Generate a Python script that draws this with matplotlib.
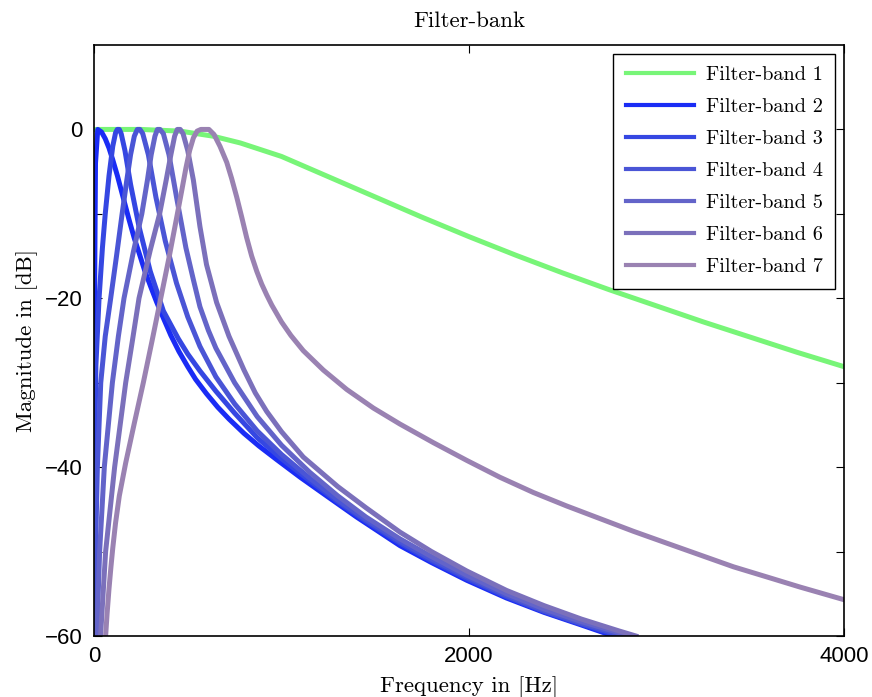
import numpy as np
import matplotlib
matplotlib.use("Agg")
import matplotlib.pyplot as plt

# Magnitude responses of the filter bank, read as (frequency [Hz], magnitude [dB])
band1_f = [0, 250, 460, 635, 780, 1000, 1250, 1500, 1750, 2000, 2250, 2500, 2750, 3000, 3250, 3500, 3750, 4000]
band1_db = [0, 0, -0.2, -0.8, -1.6, -3.2, -5.6, -8.0, -10.4, -12.7, -14.9, -17.0, -19.0, -20.9, -22.8, -24.6, -26.4, -28.1]

band2_f = [0, 3, 8, 20, 40, 60, 80, 100, 125, 150, 187, 215, 240, 270, 302, 335, 373, 410, 453, 500, 542, 600, 660,
           720, 800, 880, 974, 1100, 1240, 1400, 1632, 1800, 1988, 2200, 2400, 2600, 2770]
band2_db = [-60, -20, -4, 0, -0.3, -1.1, -2.2, -3.6, -5.5, -7.6, -10.7, -12.9, -14.6, -16.7, -18.6, -20.5, -22.5, -24.4,
            -26.3, -28.1, -29.6, -31.3, -32.9, -34.3, -36.0, -37.5, -39.1, -41.2, -43.4, -45.9, -49.3, -51.3, -53.4,
            -55.5, -57.2, -58.7, -60]

band3_f = [2, 4, 6, 10, 27, 45, 60, 80, 100, 115, 124, 135, 145, 165, 195, 240, 300, 370, 450, 500, 565, 650, 750, 870,
           1000, 1150, 1300, 1450, 1632, 1800, 1988, 2200, 2400, 2600, 2800]
band3_db = [-60, -45, -35, -28, -20, -14, -10, -5.5, -2, -0.4, 0, 0, -0.5, -2.5, -6.5, -11.5, -16.8, -21.5, -24.8,
            -26.6, -28.6, -31.0, -33.6, -36.5, -39.0, -41.6, -44.1, -46.4, -49.0, -51.1, -53.2, -55.35, -57.1, -58.6, -60]

band4_f = [3, 8, 18, 36, 60, 89, 120, 150, 175, 195, 215, 231, 245, 260, 290, 330, 380, 440, 500, 565, 650, 750, 870,
           1000, 1150, 1300, 1450, 1632, 1800, 1988, 2200, 2400, 2600, 2830]
band4_db = [-60, -50, -40, -30, -24.5, -20, -15, -10, -6, -3, -0.8, 0, 0, -0.5, -3, -8, -13.2, -18.2, -22.2, -25.7,
            -29.3, -32.5, -35.7, -38.5, -41.3, -43.9, -46.2, -48.8, -50.9, -53.0, -55.2, -57.0, -58.5, -60]

band5_f = [15, 30, 55, 98, 130, 160, 210, 255, 285, 305, 325, 338, 352, 370, 400, 440, 490, 530, 565, 610, 650, 750,
           870, 1000, 1150, 1300, 1450, 1632, 1800, 1988, 2200, 2400, 2600, 2860]
band5_db = [-60, -50, -40, -30, -24.5, -20, -14.5, -10, -6, -3, -0.8, 0, 0, -0.5, -3, -8, -14, -17.8, -21, -23.8,
            -25.9, -30.0, -34.0, -37.4, -40.6, -43.4, -45.9, -48.5, -50.6, -52.8, -55.0, -56.8, -58.3, -60]

band6_f = [35, 62, 110, 169, 205, 240, 300, 350, 385, 410, 430, 444, 460, 475, 500, 530, 565, 600, 654, 720, 800, 860,
           921, 1000, 1116, 1300, 1450, 1632, 1800, 1988, 2200, 2400, 2600, 2800, 2890]
band6_db = [-60, -50, -40, -30, -25, -20, -14.3, -10, -6, -3, -0.8, 0, 0, -0.5, -2.5, -6, -11.5, -16, -20.5, -24.5,
            -28.5, -31.2, -33.4, -35.8, -38.8, -42.3, -44.8, -47.7, -50.0, -52.3, -54.6, -56.4, -58.0, -59.4, -60]

band7_f = [62, 70, 80, 90, 100, 115, 135, 169, 215, 263, 310, 356, 400, 443, 470, 490, 510, 530, 550, 570, 613, 640,
           672, 708, 734, 761, 788, 814, 841, 868, 894, 921, 948, 1000, 1050, 1116, 1223, 1348, 1490, 1632, 1810, 1988,
           2165, 2343, 2521, 2699, 2877, 3054, 3232, 3410, 3588, 3765, 4000]
band7_db = [-60, -57.3, -54.4, -51.9, -49.6, -46.6, -43.4, -39.5, -34.8, -30, -25, -20, -15.2, -10.2, -7, -4.6, -2.5,
            -1.0, -0.2, 0, 0, -0.6, -2.0, -3.9, -5.8, -8.0, -10.4, -12.8, -15.0, -16.8, -18.3, -19.6, -20.8, -22.8,
            -24.4, -26.2, -28.5, -30.8, -33.0, -34.9, -37.1, -39.2, -41.2, -43.0, -44.6, -46.1, -47.6, -49.0, -50.4,
            -51.8, -53.0, -54.2, -55.7]

bands = [(band1_f, band1_db), (band2_f, band2_db), (band3_f, band3_db), (band4_f, band4_db),
         (band5_f, band5_db), (band6_f, band6_db), (band7_f, band7_db)]
labels = ["Filter-band %d" % (i + 1) for i in range(7)]
colors = ["#78f578", "#1a2cf5", "#3547e2", "#4a55d6", "#6364c9", "#7b70bb", "#9a82b2"]

yticks = [-60, -50, -40, -30, -20, -10, 0]
ytick_labels = ["\u221260", "", "\u221240", "", "\u221220", "", "0"]
xticks = [0, 2000, 4000]
xtick_labels = ["0", "2000", "4000"]

serif = "cmr10"

fig = plt.figure(figsize=(8.72, 6.97), dpi=100)
ax = fig.add_axes([94 / 872, 1 - 636 / 697, 750 / 872, 591 / 697])

for (f, db), lab, c in zip(bands, labels, colors):
    ax.plot(f, db, color=c, lw=3.6, label=lab, solid_joinstyle="round")

ax.set_xlim(0, 4000)
ax.set_ylim(-60, 10)
ax.set_xticks(xticks)
ax.set_xticklabels(xtick_labels, fontfamily="Liberation Sans", fontsize=16)
ax.set_yticks(yticks)
ax.set_yticklabels(ytick_labels, fontfamily="Liberation Sans", fontsize=16)
ax.tick_params(direction="in", length=6, width=0.8, top=True, right=True)
ax.tick_params(axis="x", pad=7)
ax.tick_params(axis="y", pad=8)
for s in ax.spines.values():
    s.set_linewidth(1.2)

ax.set_title("Filter-bank", fontfamily=serif, fontsize=16.5, pad=13)
ax.set_xlabel("Frequency in [Hz]", fontfamily=serif, fontsize=16.5, labelpad=7)
ax.set_ylabel("Magnitude in [dB]", fontfamily=serif, fontsize=16.5, labelpad=5)

leg = ax.legend(loc="upper right", prop={"family": serif, "size": 14.6}, fancybox=False,
                edgecolor="black", framealpha=1, handlelength=3.35, handletextpad=0.6,
                borderpad=0.6, labelspacing=0.68, borderaxespad=0.45)
leg.get_frame().set_linewidth(1.0)
for h in leg.get_lines():
    h.set_linewidth(3.0)

fig.savefig("out.png", dpi=100)
